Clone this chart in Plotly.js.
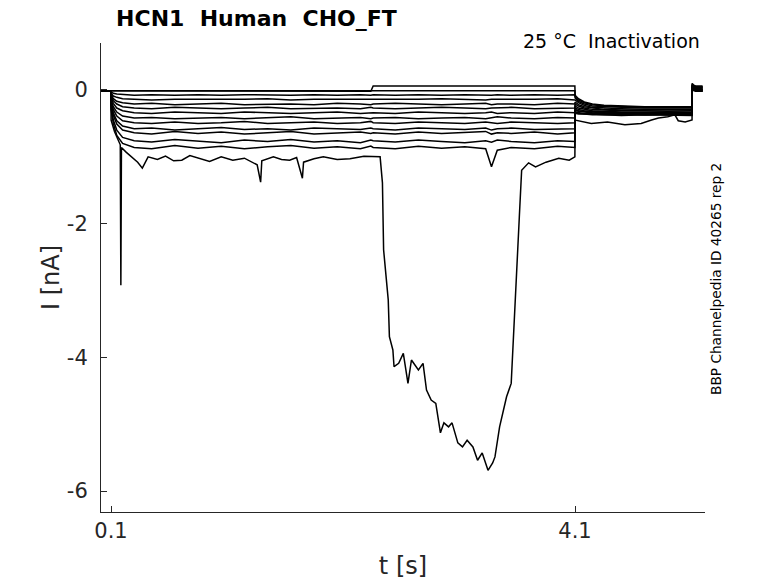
<!DOCTYPE html>
<html>
<head>
<meta charset="utf-8">
<script src="https://cdn.plot.ly/plotly-3.0.1.min.js"></script>
<style>html,body{margin:0;padding:0;background:#fff;}#chart{width:778px;height:583px;}</style>
</head>
<body>
<div id="chart"></div>
<script>
// Shared time base (s) for the 13 smaller sweeps
const tGrid = [0.014, 0.099, 0.101, 0.12, 0.15, 0.2, 0.3, 0.45, 0.65, 0.85, 1.05, 1.25, 1.45, 1.65, 1.85, 2.05, 2.25, 2.34, 2.36, 2.55, 2.75, 2.95, 3.15, 3.33, 3.38, 3.43, 3.55, 3.75, 3.95, 4.099, 4.101, 4.13, 4.18, 4.25, 4.35, 4.5, 4.7, 4.9, 5.1, 5.109, 5.111, 5.14, 5.2];

// Current (nA) of each sweep on tGrid
const sweep01 = [-0.01, -0.01, -0.02, -0.02, -0.01, -0.02, -0.01, -0.02, -0.01, -0.02, -0.01, -0.02, -0.01, -0.02, -0.01, -0.02, -0.01, -0.02, 0.06, 0.06, 0.07, 0.06, 0.06, 0.07, 0.06, 0.06, 0.07, 0.06, 0.06, 0.06, -0.08, -0.13, -0.18, -0.21, -0.23, -0.24, -0.25, -0.25, -0.25, -0.25, 0.08, 0.06, 0.06];
const sweep02 = [-0.01, -0.01, -0.01, -0.02, -0.02, -0.01, -0.02, -0.02, -0.01, -0.02, -0.02, -0.01, -0.02, -0.02, -0.01, -0.02, -0.02, -0.01, -0.01, -0.02, -0.01, -0.01, -0.02, -0.01, -0.01, -0.02, -0.01, -0.02, -0.01, -0.01, -0.10, -0.15, -0.19, -0.22, -0.24, -0.25, -0.26, -0.26, -0.26, -0.26, 0.07, 0.05, 0.05];
const sweep03 = [-0.01, -0.01, -0.03, -0.05, -0.06, -0.07, -0.08, -0.07, -0.08, -0.07, -0.08, -0.07, -0.08, -0.08, -0.07, -0.08, -0.07, -0.08, -0.07, -0.08, -0.07, -0.08, -0.07, -0.08, -0.08, -0.07, -0.08, -0.07, -0.08, -0.07, -0.12, -0.17, -0.21, -0.24, -0.25, -0.26, -0.27, -0.27, -0.27, -0.27, 0.06, 0.04, 0.04];
const sweep04 = [-0.01, -0.01, -0.05, -0.09, -0.11, -0.13, -0.14, -0.15, -0.14, -0.14, -0.15, -0.14, -0.13, -0.15, -0.14, -0.14, -0.15, -0.14, -0.14, -0.15, -0.14, -0.13, -0.14, -0.15, -0.14, -0.14, -0.15, -0.14, -0.13, -0.14, -0.15, -0.19, -0.23, -0.26, -0.27, -0.28, -0.29, -0.29, -0.29, -0.29, 0.05, 0.03, 0.03];
const sweep05 = [-0.01, -0.01, -0.07, -0.13, -0.17, -0.19, -0.21, -0.20, -0.22, -0.21, -0.20, -0.22, -0.21, -0.21, -0.22, -0.20, -0.21, -0.22, -0.21, -0.20, -0.21, -0.22, -0.21, -0.20, -0.22, -0.21, -0.21, -0.22, -0.20, -0.21, -0.18, -0.22, -0.25, -0.27, -0.29, -0.30, -0.30, -0.31, -0.30, -0.30, 0.04, 0.02, 0.02];
const sweep06 = [-0.01, -0.01, -0.09, -0.16, -0.21, -0.25, -0.27, -0.28, -0.26, -0.27, -0.28, -0.27, -0.26, -0.28, -0.27, -0.27, -0.28, -0.26, -0.27, -0.28, -0.27, -0.26, -0.27, -0.28, -0.27, -0.27, -0.26, -0.28, -0.27, -0.27, -0.21, -0.24, -0.27, -0.29, -0.30, -0.31, -0.31, -0.32, -0.31, -0.31, 0.04, 0.02, 0.01];
const sweep07 = [-0.01, -0.01, -0.11, -0.20, -0.27, -0.31, -0.34, -0.35, -0.33, -0.34, -0.35, -0.33, -0.34, -0.35, -0.34, -0.33, -0.35, -0.34, -0.34, -0.35, -0.33, -0.34, -0.35, -0.34, -0.33, -0.35, -0.34, -0.35, -0.33, -0.34, -0.24, -0.27, -0.29, -0.31, -0.32, -0.33, -0.33, -0.33, -0.33, -0.33, 0.03, 0.01, 0.01];
const sweep08 = [-0.01, -0.01, -0.14, -0.25, -0.33, -0.39, -0.42, -0.41, -0.43, -0.42, -0.41, -0.43, -0.42, -0.40, -0.43, -0.42, -0.41, -0.43, -0.42, -0.41, -0.43, -0.42, -0.41, -0.43, -0.42, -0.40, -0.42, -0.43, -0.41, -0.42, -0.27, -0.29, -0.31, -0.32, -0.33, -0.34, -0.34, -0.34, -0.35, -0.34, 0.03, 0.01, 0.00];
const sweep09 = [-0.01, -0.01, -0.17, -0.29, -0.39, -0.46, -0.49, -0.50, -0.48, -0.50, -0.49, -0.47, -0.50, -0.49, -0.48, -0.50, -0.49, -0.47, -0.49, -0.50, -0.48, -0.49, -0.50, -0.48, -0.49, -0.50, -0.48, -0.49, -0.50, -0.49, -0.29, -0.31, -0.32, -0.33, -0.34, -0.35, -0.35, -0.35, -0.35, -0.35, 0.02, 0.00, 0.00];
const sweep10 = [-0.01, -0.01, -0.20, -0.34, -0.46, -0.54, -0.58, -0.57, -0.60, -0.58, -0.56, -0.59, -0.58, -0.60, -0.57, -0.58, -0.59, -0.57, -0.58, -0.60, -0.57, -0.58, -0.59, -0.57, -0.60, -0.58, -0.57, -0.59, -0.58, -0.58, -0.31, -0.32, -0.33, -0.34, -0.35, -0.35, -0.36, -0.36, -0.36, -0.36, 0.02, 0.00, -0.01];
const sweep11 = [-0.01, -0.01, -0.22, -0.38, -0.51, -0.60, -0.64, -0.66, -0.62, -0.65, -0.63, -0.66, -0.64, -0.62, -0.66, -0.64, -0.63, -0.65, -0.64, -0.66, -0.63, -0.65, -0.64, -0.62, -0.66, -0.64, -0.65, -0.63, -0.66, -0.64, -0.33, -0.34, -0.35, -0.35, -0.36, -0.36, -0.37, -0.36, -0.37, -0.37, 0.01, -0.01, -0.01];
const sweep12 = [-0.01, -0.01, -0.26, -0.45, -0.60, -0.71, -0.76, -0.78, -0.74, -0.77, -0.79, -0.75, -0.77, -0.74, -0.78, -0.76, -0.79, -0.75, -0.76, -0.78, -0.75, -0.77, -0.79, -0.76, -0.78, -0.75, -0.77, -0.79, -0.76, -0.77, -0.34, -0.35, -0.36, -0.36, -0.37, -0.37, -0.37, -0.38, -0.37, -0.37, 0.01, -0.01, -0.02];
const sweep13 = [-0.01, -0.01, -0.30, -0.50, -0.68, -0.80, -0.86, -0.88, -0.83, -0.87, -0.84, -0.88, -0.85, -0.83, -0.87, -0.85, -0.88, -0.84, -0.86, -0.88, -0.84, -0.87, -0.85, -0.88, -1.15, -0.90, -0.86, -0.88, -0.84, -0.86, -0.35, -0.36, -0.36, -0.37, -0.37, -0.38, -0.37, -0.38, -0.38, -0.38, 0.00, -0.02, -0.02];

// Largest sweep, own time base (s) and current (nA)
const bigT = [0.014, 0.099, 0.101, 0.13, 0.16, 0.18, 0.185, 0.19, 0.23, 0.28, 0.33, 0.37, 0.42, 0.5, 0.57, 0.64, 0.71, 0.78, 0.86, 0.95, 1.05, 1.15, 1.25, 1.36, 1.39, 1.40, 1.5, 1.57, 1.64, 1.70, 1.75, 1.76, 1.85, 1.93, 2.05, 2.16, 2.28, 2.39, 2.42, 2.44, 2.45, 2.49, 2.50, 2.53, 2.54, 2.58, 2.62, 2.66, 2.69, 2.75, 2.79, 2.82, 2.86, 2.90, 2.94, 2.97, 3.01, 3.04, 3.09, 3.13, 3.17, 3.22, 3.26, 3.30, 3.35, 3.39, 3.41, 3.45, 3.51, 3.55, 3.56, 3.59, 3.62, 3.64, 3.70, 3.76, 3.85, 3.96, 4.05, 4.099, 4.101, 4.24, 4.38, 4.53, 4.67, 4.76, 4.82, 4.90, 4.96, 4.99, 5.05, 5.109, 5.111, 5.13, 5.2];
const bigI = [-0.015, -0.02, -0.45, -0.62, -0.74, -0.82, -2.92, -0.86, -0.93, -1.0, -1.08, -1.17, -1.0, -1.04, -0.99, -1.06, -1.05, -0.98, -1.02, -1.07, -1.0, -1.05, -1.02, -1.12, -1.38, -1.06, -1.0, -1.04, -1.05, -1.01, -1.32, -1.08, -1.03, -1.0, -1.04, -1.03, -0.99, -1.0, -1.0, -1.39, -2.39, -3.14, -3.69, -3.89, -4.14, -4.09, -3.94, -4.39, -4.04, -4.19, -4.09, -4.49, -4.64, -4.69, -5.13, -4.98, -5.04, -4.98, -5.28, -5.34, -5.24, -5.34, -5.54, -5.43, -5.69, -5.58, -5.49, -5.04, -4.59, -4.39, -4.0, -2.89, -1.9, -1.2, -1.09, -1.15, -1.08, -1.02, -1.05, -1.0, -0.45, -0.5, -0.48, -0.52, -0.5, -0.45, -0.42, -0.40, -0.37, -0.46, -0.48, -0.45, 0.1, 0.05, 0.04];

// Axis ticks
const xTickVals = [0.1, 4.1];
const xTickText = ['0.1', '4.1'];
const yTickVals = [-6, -4, -2, 0];
const yTickText = ['-6', '-4', '-2', '0'];

const sweeps = [sweep01, sweep02, sweep03, sweep04, sweep05, sweep06, sweep07, sweep08, sweep09, sweep10, sweep11, sweep12, sweep13];

const lineStyle = {color: '#000000', width: 1.5};
const traces = sweeps.map(function (s) {
  return {x: tGrid, y: s, type: 'scatter', mode: 'lines', line: lineStyle, hoverinfo: 'skip', showlegend: false};
});
traces.push({x: bigT, y: bigI, type: 'scatter', mode: 'lines', line: lineStyle, hoverinfo: 'skip', showlegend: false});

const axisColor = '#262626';
const fontFam = 'DejaVu Sans, sans-serif';

const layout = {
  width: 778,
  height: 583,
  margin: {l: 101, r: 73, t: 43, b: 71, pad: 0},
  paper_bgcolor: '#ffffff',
  plot_bgcolor: '#ffffff',
  font: {family: fontFam, color: axisColor},
  showlegend: false,
  title: {
    text: '<b>HCN1\u00a0 Human\u00a0 CHO_FT</b>',
    font: {family: fontFam, size: 22, color: '#000000'},
    xref: 'paper', x: 0.025, xanchor: 'left',
    yref: 'container', y: 0.969, yanchor: 'middle'
  },
  xaxis: {
    range: [0.0138, 5.2207],
    showline: true, linecolor: axisColor, linewidth: 1,
    ticks: 'inside', ticklen: 6, tickcolor: axisColor, tickwidth: 1,
    tickmode: 'array', tickvals: xTickVals, ticktext: xTickText,
    tickfont: {family: fontFam, size: 21, color: axisColor},
    showgrid: false, zeroline: false, mirror: false,
    title: {text: 't [s]', font: {family: fontFam, size: 24, color: axisColor}, standoff: 14}
  },
  yaxis: {
    range: [-6.314, 0.703],
    showline: true, linecolor: axisColor, linewidth: 1,
    ticks: 'inside', ticklen: 6, tickcolor: axisColor, tickwidth: 1,
    tickmode: 'array', tickvals: yTickVals, ticktext: yTickText,
    tickfont: {family: fontFam, size: 21, color: axisColor},
    ticklabelstandoff: 8,
    showgrid: false, zeroline: false, mirror: false,
    title: {text: 'I [nA]', font: {family: fontFam, size: 24, color: axisColor}, standoff: 0}
  },
  annotations: [
    {
      text: '25 \u00b0C\u00a0 Inactivation',
      xref: 'paper', yref: 'paper',
      x: (702 - 101) / 604, xanchor: 'right',
      y: (512 - 41) / 469, yanchor: 'middle',
      showarrow: false,
      font: {family: fontFam, size: 19, color: '#000000'}
    },
    {
      text: 'BBP Channelpedia ID 40265 rep 2',
      xref: 'paper', yref: 'paper',
      x: (716 - 101) / 604, xanchor: 'center',
      y: (512 - 279) / 469, yanchor: 'middle',
      textangle: -90,
      showarrow: false,
      font: {family: fontFam, size: 13.7, color: '#000000'}
    }
  ]
};

Plotly.newPlot('chart', traces, layout, {staticPlot: true, displayModeBar: false});
</script>
</body>
</html>
